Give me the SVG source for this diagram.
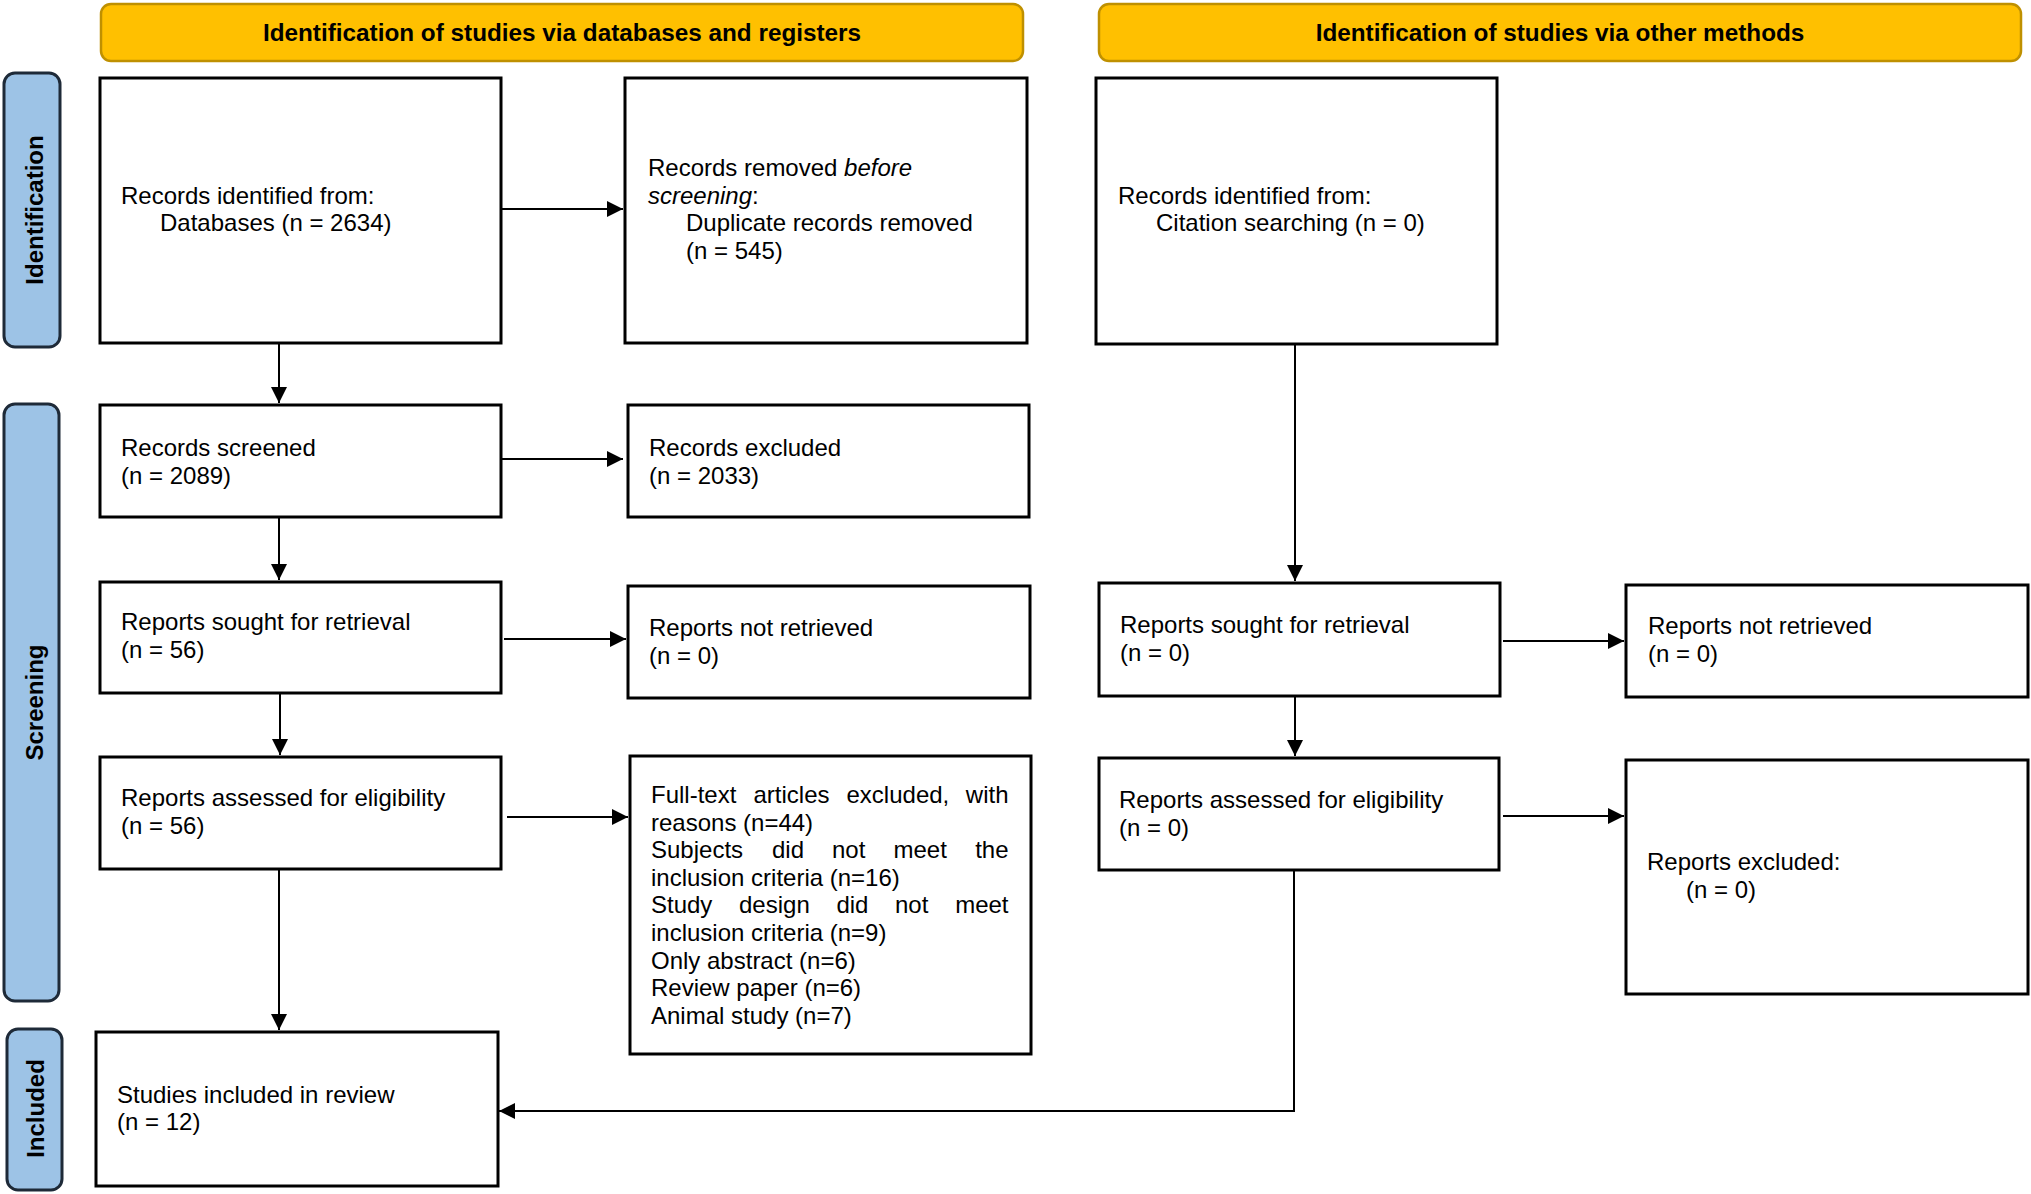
<svg xmlns="http://www.w3.org/2000/svg" width="2031" height="1194" viewBox="0 0 2031 1194">
<style>
.hdr{fill:#FFC000;stroke:#BF9000;stroke-width:2.5}
.hdrt{font-family:"Liberation Sans",Arial,sans-serif;font-weight:bold;font-size:24.3px;fill:#000;text-anchor:middle}
.side{fill:#9DC3E6;stroke:#1E2A38;stroke-width:3}
.sidet{font-family:"Liberation Sans",Arial,sans-serif;font-weight:bold;font-size:24px;fill:#000;text-anchor:middle}
.box{fill:#fff;stroke:#000;stroke-width:3}
.t{font-family:"Liberation Sans",Arial,sans-serif;font-size:24px;fill:#000}
.e{text-anchor:end}
.c{fill:none;stroke:#000;stroke-width:2}
</style>
<defs>
<marker id="ah" markerUnits="userSpaceOnUse" markerWidth="17" markerHeight="17" refX="16" refY="8" orient="auto">
<path d="M0,0 L16,8 L0,16 z" fill="#000"/>
</marker>
</defs>
<rect width="2031" height="1194" fill="#fff"/>

<g id="header-databases">
<rect class="hdr" x="101" y="4" width="922" height="57" rx="10"/>
<text class="hdrt" x="562" y="41">Identification of studies via databases and registers</text>
</g>
<g id="header-other">
<rect class="hdr" x="1099" y="4" width="922" height="57" rx="10"/>
<text class="hdrt" x="1560" y="41">Identification of studies via other methods</text>
</g>

<g id="side-identification">
<rect class="side" x="4" y="73" width="56" height="274" rx="11"/>
<text class="sidet" transform="translate(43,210) rotate(-90)">Identification</text>
</g>
<g id="side-screening">
<rect class="side" x="4" y="404" width="55" height="597" rx="11"/>
<text class="sidet" transform="translate(43,702.5) rotate(-90)">Screening</text>
</g>
<g id="side-included">
<rect class="side" x="7" y="1029" width="55" height="161" rx="11"/>
<text class="sidet" transform="translate(44,1108.5) rotate(-90)">Included</text>
</g>

<g id="connectors">
<line class="c" x1="502" y1="209" x2="623" y2="209" marker-end="url(#ah)"/>
<line class="c" x1="279" y1="344" x2="279" y2="403" marker-end="url(#ah)"/>
<line class="c" x1="502" y1="459" x2="623" y2="459" marker-end="url(#ah)"/>
<line class="c" x1="279" y1="518" x2="279" y2="580" marker-end="url(#ah)"/>
<line class="c" x1="504" y1="639" x2="626" y2="639" marker-end="url(#ah)"/>
<line class="c" x1="280" y1="694" x2="280" y2="755" marker-end="url(#ah)"/>
<line class="c" x1="507" y1="817" x2="628" y2="817" marker-end="url(#ah)"/>
<line class="c" x1="279" y1="870" x2="279" y2="1030" marker-end="url(#ah)"/>
<line class="c" x1="1295" y1="345" x2="1295" y2="581" marker-end="url(#ah)"/>
<line class="c" x1="1503" y1="641" x2="1624" y2="641" marker-end="url(#ah)"/>
<line class="c" x1="1295" y1="697" x2="1295" y2="756" marker-end="url(#ah)"/>
<line class="c" x1="1503" y1="816" x2="1624" y2="816" marker-end="url(#ah)"/>
<polyline class="c" points="1294,871 1294,1111 499,1111" marker-end="url(#ah)"/>
</g>

<g id="records-identified-db">
<rect class="box" x="100" y="78" width="401" height="265"/>
<text class="t" x="121" y="204">Records identified from:</text>
<text class="t" x="160" y="231">Databases (n = 2634)</text>
</g>
<g id="records-removed">
<rect class="box" x="625" y="78" width="402" height="265"/>
<text class="t" x="648" y="176">Records removed <tspan font-style="italic">before</tspan></text>
<text class="t" x="648" y="203.5"><tspan font-style="italic">screening</tspan>:</text>
<text class="t" x="686" y="231">Duplicate records removed</text>
<text class="t" x="686" y="258.5">(n = 545)</text>
</g>
<g id="records-identified-other">
<rect class="box" x="1096" y="78" width="401" height="266"/>
<text class="t" x="1118" y="204">Records identified from:</text>
<text class="t" x="1156" y="231">Citation searching (n = 0)</text>
</g>
<g id="records-screened">
<rect class="box" x="100" y="405" width="401" height="112"/>
<text class="t" x="121" y="456">Records screened</text>
<text class="t" x="121" y="483.5">(n = 2089)</text>
</g>
<g id="records-excluded">
<rect class="box" x="628" y="405" width="401" height="112"/>
<text class="t" x="649" y="456">Records excluded</text>
<text class="t" x="649" y="483.5">(n = 2033)</text>
</g>
<g id="reports-sought-db">
<rect class="box" x="100" y="582" width="401" height="111"/>
<text class="t" x="121" y="630">Reports sought for retrieval</text>
<text class="t" x="121" y="657.5">(n = 56)</text>
</g>
<g id="reports-not-retrieved-db">
<rect class="box" x="628" y="586" width="402" height="112"/>
<text class="t" x="649" y="636">Reports not retrieved</text>
<text class="t" x="649" y="663.5">(n = 0)</text>
</g>
<g id="reports-sought-other">
<rect class="box" x="1099" y="583" width="401" height="113"/>
<text class="t" x="1120" y="633">Reports sought for retrieval</text>
<text class="t" x="1120" y="660.5">(n = 0)</text>
</g>
<g id="reports-not-retrieved-other">
<rect class="box" x="1626" y="585" width="402" height="112"/>
<text class="t" x="1648" y="634">Reports not retrieved</text>
<text class="t" x="1648" y="661.5">(n = 0)</text>
</g>
<g id="reports-assessed-db">
<rect class="box" x="100" y="757" width="401" height="112"/>
<text class="t" x="121" y="806">Reports assessed for eligibility</text>
<text class="t" x="121" y="833.5">(n = 56)</text>
</g>
<g id="fulltext-excluded">
<rect class="box" x="630" y="756" width="401" height="298"/>
<text class="t" x="651" y="803">Full-text</text>
<text class="t" x="753.5" y="803">articles</text>
<text class="t" x="846.5" y="803">excluded,</text>
<text class="t e" x="1008.5" y="803">with</text>
<text class="t" x="651" y="830.6">reasons (n=44)</text>
<text class="t" x="651" y="858.2">Subjects</text>
<text class="t" x="772" y="858.2">did</text>
<text class="t" x="832" y="858.2">not</text>
<text class="t" x="893.5" y="858.2">meet</text>
<text class="t e" x="1008.5" y="858.2">the</text>
<text class="t" x="651" y="885.8">inclusion criteria (n=16)</text>
<text class="t" x="651" y="913.4">Study</text>
<text class="t" x="739" y="913.4">design</text>
<text class="t" x="836.4" y="913.4">did</text>
<text class="t" x="895" y="913.4">not</text>
<text class="t e" x="1008.5" y="913.4">meet</text>
<text class="t" x="651" y="941">inclusion criteria (n=9)</text>
<text class="t" x="651" y="968.6">Only abstract (n=6)</text>
<text class="t" x="651" y="996.2">Review paper (n=6)</text>
<text class="t" x="651" y="1023.8">Animal study (n=7)</text>
</g>
<g id="reports-assessed-other">
<rect class="box" x="1099" y="758" width="400" height="112"/>
<text class="t" x="1119" y="808">Reports assessed for eligibility</text>
<text class="t" x="1119" y="835.5">(n = 0)</text>
</g>
<g id="reports-excluded-other">
<rect class="box" x="1626" y="760" width="402" height="234"/>
<text class="t" x="1647" y="870">Reports excluded:</text>
<text class="t" x="1686" y="897.5">(n = 0)</text>
</g>
<g id="studies-included">
<rect class="box" x="96" y="1032" width="402" height="154"/>
<text class="t" x="117" y="1102.5">Studies included in review</text>
<text class="t" x="117" y="1130">(n = 12)</text>
</g>
</svg>
